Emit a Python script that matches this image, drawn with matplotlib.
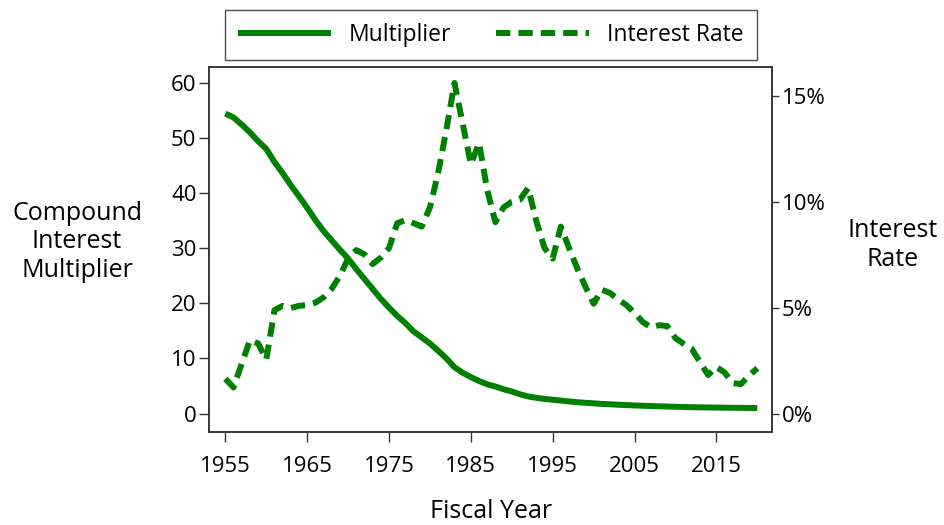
import matplotlib
matplotlib.use("Agg")
import matplotlib.pyplot as plt
from matplotlib.ticker import FuncFormatter

plt.rcParams['font.family'] = ['Open Sans', 'DejaVu Sans']

years = list(range(1955, 2021))

multiplier = [54.4, 53.7, 52.4, 51.0, 49.4, 48.0, 45.6, 43.6, 41.4, 39.4,
              37.3, 35.1, 33.1, 31.4, 29.7, 28.1, 26.2, 24.4, 22.6, 20.8,
              19.2, 17.7, 16.4, 14.9, 13.8, 12.7, 11.4, 10.0, 8.4, 7.4,
              6.6, 5.9, 5.3, 4.9, 4.4, 4.0, 3.5, 3.1, 2.85, 2.65,
              2.5, 2.35, 2.2, 2.05, 1.95, 1.85, 1.75, 1.68, 1.6, 1.53,
              1.47, 1.41, 1.36, 1.31, 1.27, 1.22, 1.18, 1.15, 1.12, 1.1,
              1.08, 1.06, 1.04, 1.03, 1.015, 1.0]

interest_rate = [1.66, 1.25, 2.37, 3.48, 3.33, 2.57, 4.90, 5.10, 5.00, 5.10,
                 5.15, 5.25, 5.50, 5.91, 6.52, 7.33, 7.73, 7.53, 7.07, 7.38,
                 7.83, 9.00, 9.15, 9.00, 8.84, 9.75, 11.37, 13.40, 15.62, 13.70,
                 11.78, 12.79, 10.56, 9.05, 9.75, 10.01, 10.11, 10.66, 9.10, 7.83,
                 7.33, 8.84, 7.83, 6.87, 6.01, 5.20, 5.86, 5.71, 5.40, 5.14,
                 4.77, 4.34, 4.09, 4.19, 4.15, 3.58, 3.31, 3.07, 2.45, 1.84,
                 2.22, 1.96, 1.46, 1.41, 1.81, 2.16]

x_ticks = [1955, 1965, 1975, 1985, 1995, 2005, 2015]
left_ticks = [0, 10, 20, 30, 40, 50, 60]
right_ticks = [0, 5, 10, 15]

GREEN = '#008000'
SPINE = '#333333'
FS = 16
TITLE_FS = 18

fig = plt.figure(figsize=(9.44, 5.25), dpi=100)
ax = fig.add_axes([209/944, 1-432/525, (772-209)/944, (432-67)/525])
ax2 = ax.twinx()

l1, = ax.plot(years, multiplier, color=GREEN, lw=4.3, solid_capstyle='butt',
              solid_joinstyle='round', label='Multiplier')
l2, = ax2.plot(years, interest_rate, color=GREEN, lw=4.3,
               linestyle=(0, (2.4, 1.35)), dash_capstyle='butt',
               label='Interest Rate')

ax.set_xlim(1953.0, 2021.8)
ax.set_ylim(-3.35, 62.85)
ax2.set_ylim(-0.85, 16.37)

ax.set_xticks(x_ticks)
ax.set_yticks(left_ticks)
ax2.set_yticks(right_ticks)
ax2.yaxis.set_major_formatter(FuncFormatter(lambda v, p: f"{int(v)}%"))

for a in (ax, ax2):
    for s in a.spines.values():
        s.set_color(SPINE)
        s.set_linewidth(1.1)

ax.tick_params(axis='x', direction='out', length=7.5, width=1.0, color=SPINE,
               labelsize=FS, pad=10)
ax.tick_params(axis='y', direction='out', length=7, width=1.0, color=SPINE,
               labelsize=FS, pad=2)
ax2.tick_params(axis='y', direction='out', length=5, width=1.0, color=SPINE,
                labelsize=FS, pad=2)

fig.text(77/944, 1-242/525, 'Compound\nInterest\nMultiplier', ha='center',
         va='center', fontsize=TITLE_FS, linespacing=1.19)
fig.text(893/944, 1-245/525, 'Interest\nRate', ha='center', va='center',
         fontsize=TITLE_FS, linespacing=1.19)
fig.text(491/944, 1-512/525, 'Fiscal Year', ha='center', va='center',
         fontsize=TITLE_FS)

leg = fig.legend(handles=[l1, l2], loc='center',
                 bbox_to_anchor=(491/944, 1-35/525), ncol=2, fontsize=16.5,
                 frameon=True, fancybox=False, shadow=False,
                 handlelength=4.06, handletextpad=0.78, columnspacing=1.96,
                 borderpad=0.55, borderaxespad=0)
leg.get_frame().set_edgecolor('#222222')
leg.get_frame().set_linewidth(1.0)

fig.savefig('out.png', dpi=100)
